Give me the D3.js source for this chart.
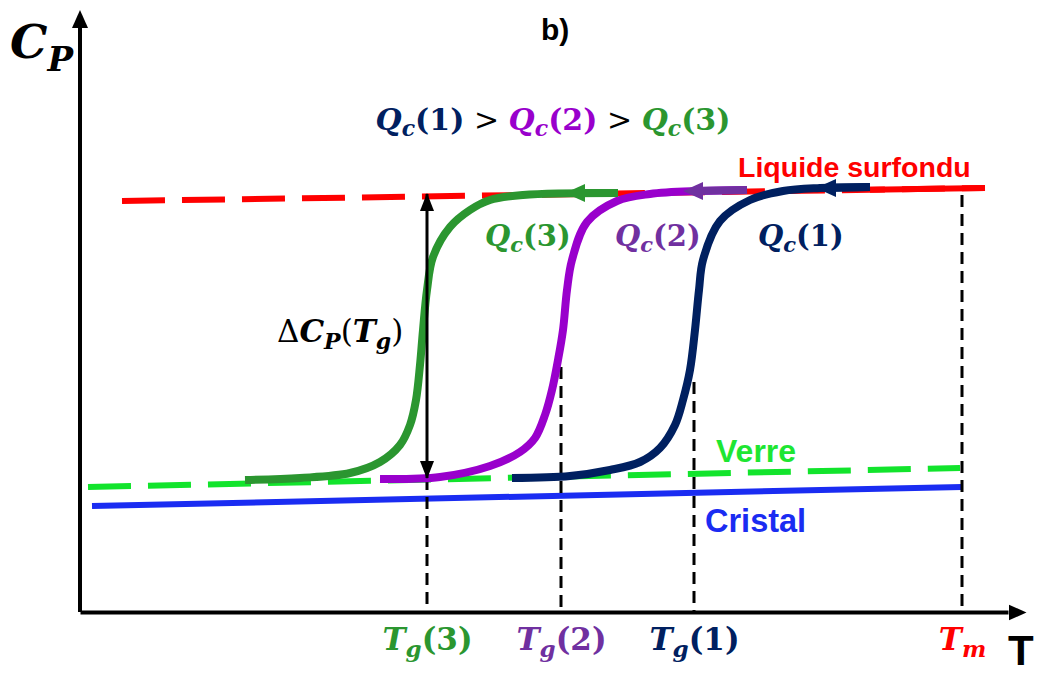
<!DOCTYPE html>
<html>
<head>
<meta charset="utf-8">
<script src="https://cdn.jsdelivr.net/npm/d3@7"></script>
<style>
  body { margin: 0; background: #fff; }
</style>
</head>
<body>
<div id="chart"></div>
<script>
// units: T counted from the origin, Cp counted up from the T axis (arbitrary)
var tgNames  = ["3", "2", "1"];
var tgValues = [347, 481, 614];
var tgTops   = [134, 245, 230];   // where the dashed drop lines start
var tmValue  = 882;
var tmTop    = 417;

var curveColors = ["#2b9630", "#9900cc", "#002060"];
var labelColors = ["#2b9630", "#7030a0", "#002060"];

// the three cooling curves, Qc(3), Qc(2), Qc(1)
var curveQ3 = [[165,132],[220,134],[270,139],[300,150],[320,167],[330,187],[336,212],[340,247],
               [343,282],[347,322],[353,355],[370,385],[390,402],[410,412],[443,417],[538,419]];
var curveQ2 = [[300,133],[360,135],[410,146],[440,160],[455,174],[465,197],[472,222],[478,252],
               [483,282],[487,322],[492,352],[507,390],[537,411],[570,418],[620,421],[667,422]];
var curveQ1 = [[432,134],[490,136],[530,142],[560,150],[580,164],[595,187],[603,212],[610,242],
               [615,282],[619,322],[623,352],[640,391],[670,412],[703,421],[740,424],[790,425]];
var curves = [curveQ3, curveQ2, curveQ1];
var curveArrows = [[485,419], [603,421], [736,424]];

// reference lines
var liquide = [[42,411], [905,424]];
var liquideSolidFrom = 790;
var verre   = [[8,125], [880,144]];
var cristal = [[12,106], [882,125]];

var deltaCp = [134, 418];   // the double arrow at Tg(3)

var margin = {top: 28, right: 32, bottom: 63, left: 80};
var width = 1040, height = 675;

var svg = d3.select("#chart").append("svg")
  .attr("width", width)
  .attr("height", height);

var x = d3.scaleLinear().domain([0, 928]).range([margin.left, width - margin.right]);
var y = d3.scaleLinear().domain([0, 584]).range([height - margin.bottom, margin.top]);

var serif = "'DejaVu Serif', serif";
var sans = "'Liberation Sans', Arial, sans-serif";

// arrow heads
var defs = svg.append("defs");
defs.append("marker")
  .attr("id", "axisHead")
  .attr("markerUnits", "userSpaceOnUse")
  .attr("viewBox", "0 -9 18 18")
  .attr("refX", 0).attr("refY", 0)
  .attr("markerWidth", 18).attr("markerHeight", 18)
  .attr("orient", "auto")
  .append("path").attr("d", "M0,-8L18,0L0,8Z").attr("fill", "#000");
defs.append("marker")
  .attr("id", "dHead")
  .attr("markerUnits", "userSpaceOnUse")
  .attr("viewBox", "0 -8 18 16")
  .attr("refX", 17).attr("refY", 0)
  .attr("markerWidth", 18).attr("markerHeight", 16)
  .attr("orient", "auto-start-reverse")
  .append("path").attr("d", "M0,-7L18,0L0,7Z").attr("fill", "#000");

var line = d3.line().x(function(d) { return x(d[0]); }).y(function(d) { return y(d[1]); });

// rich text helper (for subscripts)
function rich(px, py, parts, anchor) {
  var t = svg.append("text").attr("x", px).attr("y", py)
    .attr("text-anchor", anchor || "start");
  parts.forEach(function(p) {
    t.append("tspan")
      .attr("font-family", p.f || serif)
      .attr("font-size", p.s)
      .attr("font-weight", p.w || "bold")
      .attr("font-style", p.i ? "italic" : "normal")
      .attr("fill", p.c || "#000")
      .attr("dy", p.dy || 0)
      .text(p.t);
  });
  return t;
}
function qc(n, c, size) {
  var sub = Math.round(size * 0.72);
  return [
    {t: "Q", s: size, i: true, c: c},
    {t: "c", s: sub, i: true, c: c, dy: size * 0.2},
    {t: "(" + n + ")", s: size, c: c, dy: -size * 0.2}
  ];
}

// reference lines
svg.append("path").datum(cristal).attr("d", line)
  .attr("fill", "none").attr("stroke", "#1a2cf2").attr("stroke-width", 6);
svg.append("path").datum(verre).attr("d", line)
  .attr("fill", "none").attr("stroke", "#12e42c").attr("stroke-width", 6)
  .attr("stroke-dasharray", "43,17");
svg.append("path").datum(liquide).attr("d", line)
  .attr("fill", "none").attr("stroke", "#ff0000").attr("stroke-width", 6)
  .attr("stroke-dasharray", "43,17");
var liqY = d3.scaleLinear().domain([liquide[0][0], liquide[1][0]]).range([liquide[0][1], liquide[1][1]]);
svg.append("path").datum([[liquideSolidFrom, liqY(liquideSolidFrom)], liquide[1]]).attr("d", line)
  .attr("fill", "none").attr("stroke", "#ff0000").attr("stroke-width", 6);

// dashed drop lines
var drops = tgValues.map(function(v, i) { return {t: v, top: tgTops[i]}; })
  .concat([{t: tmValue, top: tmTop}]);
svg.selectAll(".drop").data(drops).join("line")
  .attr("class", "drop")
  .attr("x1", function(d) { return x(d.t); }).attr("x2", function(d) { return x(d.t); })
  .attr("y1", function(d) { return y(d.top); }).attr("y2", y(0))
  .attr("stroke", "#000").attr("stroke-width", 3)
  .attr("stroke-dasharray", "12,7");

// cooling curves
svg.selectAll(".cool").data(curves).join("path")
  .attr("class", "cool")
  .attr("d", d3.line().curve(d3.curveCatmullRom.alpha(0.5))
    .x(function(d) { return x(d[0]); }).y(function(d) { return y(d[1]); }))
  .attr("fill", "none")
  .attr("stroke", function(d, i) { return curveColors[i]; })
  .attr("stroke-width", 8)
  .attr("stroke-linecap", "butt");

// tails + arrow heads on the upper plateaus
curveArrows.forEach(function(a, i) {
  var end = curves[i][curves[i].length - 1];
  svg.append("line")
    .attr("x1", x(a[0]) + 10).attr("x2", x(end[0]))
    .attr("y1", y(a[1])).attr("y2", y(end[1]))
    .attr("stroke", labelColors[i]).attr("stroke-width", 8);
  var px = x(a[0]), py = y(a[1]);
  svg.append("path")
    .attr("d", "M" + px + "," + py + "L" + (px + 20) + "," + (py - 9) + "L" + (px + 20) + "," + (py + 9) + "Z")
    .attr("fill", labelColors[i]);
});

// delta Cp double arrow
svg.append("line")
  .attr("x1", x(tgValues[0])).attr("x2", x(tgValues[0]))
  .attr("y1", y(deltaCp[0])).attr("y2", y(deltaCp[1]))
  .attr("stroke", "#000").attr("stroke-width", 3)
  .attr("marker-start", "url(#dHead)").attr("marker-end", "url(#dHead)");

// axes
var xAxis = svg.append("g")
  .attr("transform", "translate(0," + y(0) + ")")
  .call(d3.axisBottom(x).tickValues(tgValues.concat([tmValue])).tickSize(0).tickSizeOuter(0).tickFormat(""));
xAxis.select(".domain").attr("stroke-width", 4).attr("marker-end", "url(#axisHead)");

var yAxis = svg.append("g")
  .attr("transform", "translate(" + x(0) + ",0)")
  .call(d3.axisLeft(y).tickValues([]).tickSizeOuter(0));
yAxis.select(".domain").attr("stroke-width", 4).attr("d", "M0," + y(0) + "V" + y(584)).attr("marker-end", "url(#axisHead)");

// tick labels T_g(n) and T_m
xAxis.selectAll(".tick").each(function(d, i) {
  var lbl = d3.select(this).select("text").text(null)
    .attr("y", 38).attr("dy", 0).attr("text-anchor", "middle");
  var c = i < 3 ? labelColors[i] : "#ff0000";
  lbl.append("tspan").attr("font-family", serif).attr("font-style", "italic").attr("font-weight", "bold")
    .attr("font-size", 31).attr("fill", c).text("T");
  lbl.append("tspan").attr("font-family", serif).attr("font-style", "italic").attr("font-weight", "bold")
    .attr("font-size", 23).attr("dy", 7).attr("fill", c).text(i < 3 ? "g" : "m");
  if (i < 3) {
    lbl.append("tspan").attr("font-family", serif).attr("font-weight", "bold")
      .attr("font-size", 31).attr("dy", -7).attr("fill", c).text("(" + tgNames[i] + ")");
  }
});

// axis titles
rich(10, 58, [{t: "C", s: 47, i: true}, {t: "P", s: 34, i: true, dy: 13}]);
svg.append("text").attr("x", 1008).attr("y", 665)
  .attr("font-family", sans).attr("font-weight", "bold").attr("font-size", 42).text("T");
svg.append("text").attr("x", 541).attr("y", 40)
  .attr("font-family", sans).attr("font-weight", "bold").attr("font-size", 30).text("b)");

// Qc ordering
var topParts = qc("1", "#002060", 30)
  .concat([{t: " > ", s: 30, w: "normal", c: "#000"}])
  .concat(qc("2", "#9900cc", 30))
  .concat([{t: " > ", s: 30, w: "normal", c: "#000"}])
  .concat(qc("3", "#2b9630", 30));
rich(553, 130, topParts, "middle");

// curve labels
rich(485, 246, qc("3", labelColors[0], 29));
rich(615, 246, qc("2", labelColors[1], 29));
rich(758, 246, qc("1", labelColors[2], 29));

// delta Cp label
rich(277, 342, [
  {t: "Δ", s: 31, w: "normal"},
  {t: "C", s: 31, i: true},
  {t: "P", s: 22, i: true, dy: 7},
  {t: "(", s: 31, w: "normal", dy: -7},
  {t: "T", s: 31, i: true},
  {t: "g", s: 22, i: true, dy: 7},
  {t: ")", s: 31, w: "normal", dy: -7}
]);

// line labels
svg.append("text").attr("x", 738).attr("y", 177)
  .attr("font-family", sans).attr("font-weight", "bold").attr("font-size", 28.5)
  .attr("fill", "#ff0000").text("Liquide surfondu");
svg.append("text").attr("x", 716).attr("y", 462)
  .attr("font-family", sans).attr("font-weight", "bold").attr("font-size", 32)
  .attr("fill", "#1ee632").text("Verre");
svg.append("text").attr("x", 705).attr("y", 532)
  .attr("font-family", sans).attr("font-weight", "bold").attr("font-size", 32.5)
  .attr("fill", "#1a2cf2").text("Cristal");
</script>
</body>
</html>
